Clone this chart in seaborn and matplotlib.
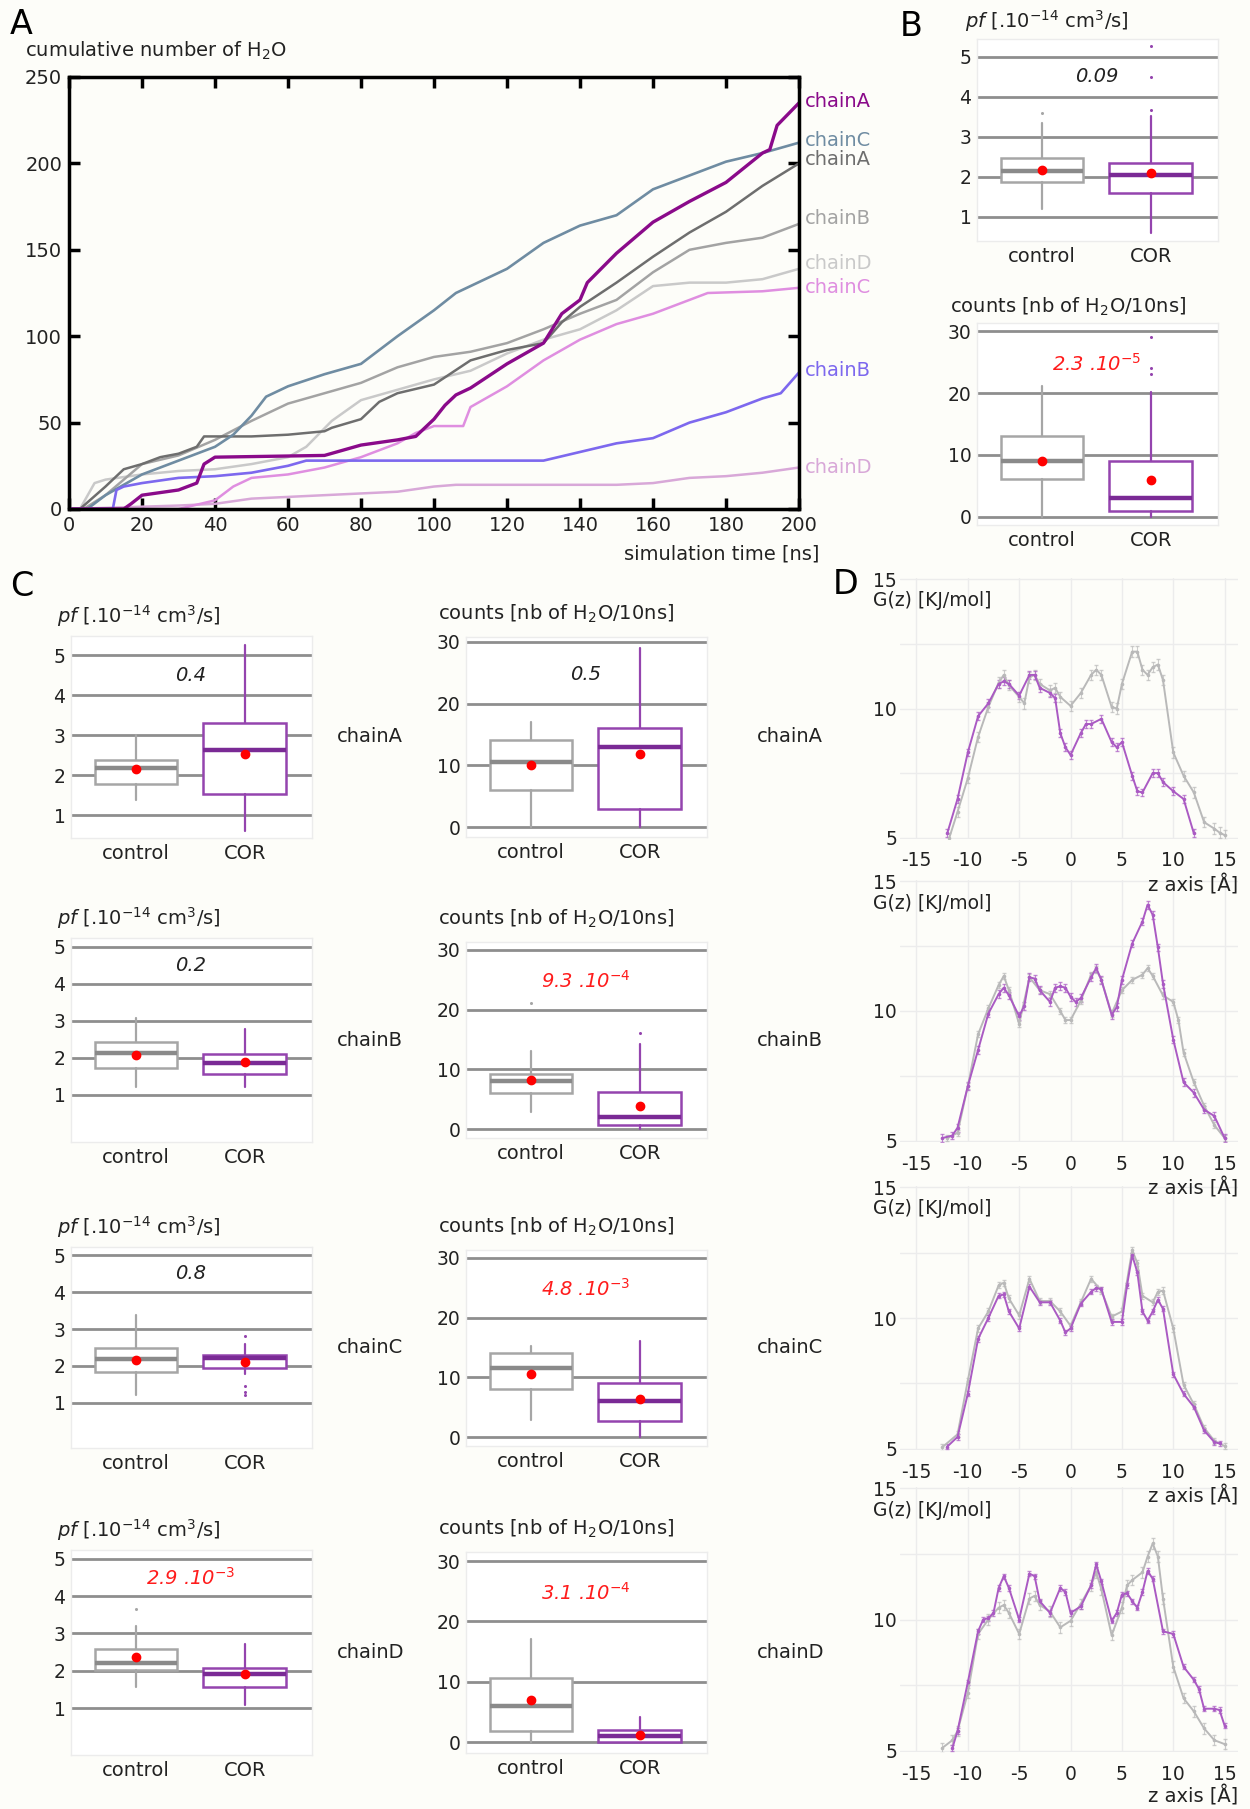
import matplotlib
matplotlib.use("Agg")
import matplotlib.pyplot as plt
import seaborn as sns

W, H = 1250, 1809
sns.set_theme(style="white")
plt.rcParams["font.family"] = ["DejaVu Sans"]
plt.rcParams["axes.unicode_minus"] = False
plt.rcParams["mathtext.fontset"] = "dejavusans"
BG = "#fdfdf9"

# ---------------- Panel A : cumulative number of H2O ----------------
ctrlC_t = [0, 5, 10, 20, 30, 40, 45, 50, 54, 60, 70, 80, 90, 100, 106, 110, 120, 130, 140, 150, 160, 170, 180, 190, 200]
ctrlC_n = [0, 0, 8, 20, 28, 36, 43, 54, 65, 71, 78, 84, 100, 115, 125, 129, 139, 154, 164, 170, 185, 193, 201, 206, 212]
ctrlA_t = [0, 3, 10, 15, 20, 25, 30, 35, 37, 50, 60, 70, 72, 80, 85, 90, 100, 110, 120, 130, 135, 140, 150, 160, 170, 180, 190, 200]
ctrlA_n = [0, 0, 13, 23, 26, 30, 32, 36, 42, 42, 43, 45, 47, 52, 62, 67, 72, 86, 92, 96, 108, 117, 131, 146, 160, 172, 187, 200]
ctrlB_t = [0, 4, 10, 20, 30, 40, 50, 60, 70, 80, 90, 100, 110, 120, 130, 140, 150, 160, 170, 180, 190, 200]
ctrlB_n = [0, 0, 8, 26, 31, 40, 51, 61, 67, 73, 82, 88, 91, 96, 104, 113, 121, 137, 150, 154, 157, 165]
ctrlD_t = [0, 3, 7, 10, 20, 30, 40, 50, 60, 65, 72, 80, 90, 100, 110, 120, 130, 140, 150, 160, 170, 180, 190, 200]
ctrlD_n = [0, 0, 15, 17, 20, 22, 23, 26, 30, 36, 51, 63, 69, 75, 80, 90, 98, 104, 115, 129, 131, 131, 133, 139]
corA_t = [0, 15, 17, 20, 30, 35, 37, 40, 70, 75, 80, 90, 95, 100, 103, 106, 110, 120, 130, 135, 140, 142, 150, 160, 170, 180, 190, 192, 194, 200]
corA_n = [0, 0, 3, 8, 11, 15, 26, 30, 31, 34, 37, 40, 42, 52, 60, 66, 70, 84, 96, 113, 121, 131, 148, 166, 178, 189, 206, 208, 222, 235]
corC_t = [0, 30, 40, 45, 50, 60, 70, 80, 90, 95, 100, 108, 110, 120, 130, 140, 150, 160, 170, 175, 190, 200]
corC_n = [0, 0, 5, 13, 18, 20, 24, 30, 38, 44, 48, 48, 59, 71, 86, 98, 107, 113, 121, 125, 126, 128]
corB_t = [0, 12, 13, 15, 20, 30, 40, 50, 60, 65, 130, 140, 150, 160, 170, 180, 190, 195, 200]
corB_n = [0, 0, 11, 13, 15, 18, 19, 21, 25, 28, 28, 33, 38, 41, 50, 56, 64, 67, 79]
corD_t = [0, 30, 40, 50, 60, 70, 80, 90, 100, 106, 150, 160, 170, 180, 190, 200]
corD_n = [0, 2, 3, 6, 7, 8, 9, 10, 13, 14, 14, 15, 18, 19, 21, 24]
A_labels = ["chainA", "chainC", "chainA", "chainB", "chainD", "chainC", "chainB", "chainD"]
A_label_y = [236, 213, 202, 168, 142, 128, 80, 24]

# ---------------- Panels B / C : box plots ----------------
# order: all chains (B), chainA, chainB, chainC, chainD
groups = ["control", "COR"]
chains = ["chainA", "chainB", "chainC", "chainD"]
pf_ctrl_q1 = [1.87, 1.79, 1.72, 1.85, 2.03]
pf_ctrl_med = [2.16, 2.17, 2.13, 2.20, 2.21]
pf_ctrl_q3 = [2.48, 2.39, 2.42, 2.48, 2.58]
pf_ctrl_lo = [1.20, 1.39, 1.21, 1.21, 1.57]
pf_ctrl_hi = [3.34, 3.00, 3.09, 3.38, 3.20]
pf_ctrl_mean = [2.18, 2.15, 2.09, 2.17, 2.37]
pf_ctrl_fliers = [[3.61], [], [], [], [3.67]]
pf_cor_q1 = [1.60, 1.53, 1.56, 1.94, 1.57]
pf_cor_med = [2.05, 2.64, 1.86, 2.21, 1.91]
pf_cor_q3 = [2.36, 3.31, 2.12, 2.30, 2.08]
pf_cor_lo = [0.60, 0.61, 1.22, 1.78, 1.07]
pf_cor_hi = [3.52, 5.25, 2.77, 2.60, 2.71]
pf_cor_mean = [2.09, 2.53, 1.90, 2.12, 1.90]
pf_cor_fliers = [[3.68, 4.51, 5.27], [], [], [2.82, 1.45, 1.30, 1.21], []]
pf_ptext = ["0.09", "0.4", "0.2", "0.8", r"2.9 .10$^{\mathit{-3}}$"]
pf_psig = [False, False, False, False, True]

cnt_ctrl_q1 = [6.2, 6.0, 6.0, 8.0, 1.8]
cnt_ctrl_med = [9.1, 10.5, 8.0, 11.5, 6.0]
cnt_ctrl_q3 = [13.0, 14.1, 9.2, 14.1, 10.6]
cnt_ctrl_lo = [0.0, 0.0, 2.8, 2.9, 0.0]
cnt_ctrl_hi = [21.1, 17.0, 13.0, 15.2, 17.1]
cnt_ctrl_mean = [9.1, 10.1, 8.25, 10.6, 7.0]
cnt_ctrl_fliers = [[], [], [21.1], [], []]
cnt_cor_q1 = [1.0, 3.0, 0.7, 2.7, 0.0]
cnt_cor_med = [3.1, 13.0, 1.95, 6.1, 0.95]
cnt_cor_q3 = [9.0, 16.0, 6.2, 9.05, 2.0]
cnt_cor_lo = [0.0, 0.0, 0.0, 0.0, 0.0]
cnt_cor_hi = [20.1, 29.0, 14.2, 16.0, 4.1]
cnt_cor_mean = [5.9, 11.8, 3.9, 6.4, 1.2]
cnt_cor_fliers = [[23.0, 24.0, 29.0], [], [16.1], [], []]
cnt_ptext = [r"2.3 .10$^{\mathit{-5}}$", "0.5", r"9.3 .10$^{\mathit{-4}}$", r"4.8 .10$^{\mathit{-3}}$", r"3.1 .10$^{\mathit{-4}}$"]
cnt_psig = [True, False, True, True, True]

# ---------------- Panel D : free energy profiles ----------------
D1_ctrl_z = [-11.8, -11, -10, -9, -8, -7, -6.5, -6, -5, -4.5, -4, -3.5, -3, -2, -1.5, -1, 0, 1, 2, 2.5, 3, 4, 4.5, 5, 6, 6.5, 7, 7.5, 8, 8.5, 9, 10, 11, 12, 13, 14, 14.5, 15]
D1_ctrl_g = [5.0, 6.0, 7.3, 8.9, 10.06, 11.0, 11.3, 10.9, 10.45, 10.2, 11.2, 11.3, 10.95, 10.7, 10.8, 10.45, 10.1, 10.6, 11.3, 11.5, 11.3, 10.06, 10.0, 10.95, 12.2, 12.2, 11.5, 11.3, 11.6, 11.7, 11.1, 8.3, 7.4, 6.75, 5.6, 5.35, 5.2, 5.1]
D1_cor_z = [-12, -11, -10, -9, -8, -7, -6.5, -6, -5, -4, -3.5, -3, -2, -1.5, -1, -0.5, 0, 1, 1.5, 2, 3, 4, 4.5, 5, 6, 6.5, 7, 8, 8.5, 9, 10, 11, 12]
D1_cor_g = [5.17, 6.5, 8.3, 9.7, 10.2, 10.95, 11.05, 10.95, 10.5, 11.3, 11.3, 10.8, 10.6, 10.4, 9.05, 8.5, 8.2, 9.05, 9.4, 9.4, 9.6, 8.7, 8.5, 8.7, 7.4, 6.8, 6.75, 7.5, 7.5, 7.15, 6.8, 6.5, 5.17]
D2_ctrl_z = [-12, -11, -10, -9, -8, -7, -6.5, -6, -5, -4, -3, -2, -1, -0.5, 0, 1, 2, 2.5, 3, 4, 5, 6, 7, 7.5, 8, 9, 10, 10.5, 11, 12, 13, 14, 15]
D2_ctrl_g = [5.1, 5.3, 7.1, 9.1, 10.1, 11.0, 11.35, 10.8, 9.5, 11.3, 10.8, 10.65, 10.0, 9.65, 9.65, 10.4, 11.4, 11.6, 11.2, 9.9, 10.8, 11.2, 11.4, 11.65, 11.35, 10.6, 10.35, 9.65, 8.4, 7.25, 6.35, 5.6, 5.1]
D2_cor_z = [-12.5, -11.5, -11, -10, -9, -8, -7, -6.5, -6, -5, -4.5, -4, -3.5, -3, -2, -1.5, -1, -0.5, 0, 0.5, 1, 2, 2.5, 3, 4, 4.5, 5, 6, 7, 7.5, 8, 8.5, 9, 10, 11, 12, 13, 14, 15]
D2_cor_g = [5.1, 5.2, 5.5, 7.1, 8.5, 9.9, 10.65, 10.9, 10.6, 9.8, 10.2, 11.3, 11.25, 10.8, 10.35, 10.9, 10.95, 10.9, 10.55, 10.35, 10.5, 11.3, 11.65, 11.2, 9.85, 10.15, 11.2, 12.6, 13.45, 14.1, 13.7, 12.45, 11.05, 8.9, 7.25, 6.85, 6.2, 5.95, 5.1]
D3_ctrl_z = [-12.5, -11, -10, -9, -8, -7, -6.5, -6, -5, -4, -3, -2, -1, 0, 1, 2, 3, 4, 5, 6, 6.5, 7, 8, 8.5, 9, 10, 11, 12, 13, 14, 15]
D3_ctrl_g = [5.05, 5.55, 7.6, 9.6, 10.25, 11.25, 11.35, 10.75, 10.1, 11.5, 10.65, 10.65, 10.25, 9.7, 10.6, 11.5, 11.05, 10.05, 10.25, 12.6, 12.1, 10.85, 10.6, 11.0, 11.05, 9.6, 7.45, 6.7, 5.8, 5.3, 5.1]
D3_cor_z = [-12, -11, -10, -9, -8, -7, -6.5, -6, -5, -4, -3, -2, -1, -0.5, 0, 1, 2, 2.5, 3, 4, 5, 5.5, 6, 6.5, 7, 7.5, 8, 8.5, 9, 10, 11, 12, 13, 14, 14.5]
D3_cor_g = [5.08, 5.45, 7.1, 9.2, 10.0, 10.85, 10.9, 10.25, 9.6, 11.2, 10.6, 10.6, 9.9, 9.45, 9.6, 10.55, 11.0, 11.15, 11.1, 9.85, 9.85, 11.25, 12.4, 11.75, 10.25, 9.9, 10.25, 10.7, 10.35, 7.85, 7.1, 6.6, 5.7, 5.25, 5.2]
D4_ctrl_z = [-12.5, -11.5, -11, -10, -9, -8, -7, -6.5, -6, -5, -4, -3.5, -3, -2, -1, 0, 1, 2, 2.5, 3, 4, 5, 5.5, 6, 7, 7.5, 8, 8.5, 9, 10, 11, 12, 13, 14, 15]
D4_ctrl_g = [5.1, 5.4, 5.75, 7.2, 9.45, 10.0, 10.45, 10.55, 10.25, 9.45, 10.8, 10.9, 10.55, 10.3, 9.7, 9.95, 10.6, 11.3, 11.8, 11.15, 9.4, 10.45, 11.3, 11.5, 11.8, 12.4, 12.9, 12.4, 10.8, 8.2, 7.0, 6.5, 5.85, 5.4, 5.25]
D4_cor_z = [-11.5, -11, -10, -9, -8.5, -8, -7.5, -7, -6.5, -6, -5, -4, -3.5, -3, -2, -1, -0.5, 0, 1, 2, 2.5, 3, 4, 4.5, 5, 5.5, 6, 6.5, 7, 7.5, 8, 9, 10, 11, 12, 12.5, 13, 14, 14.5, 15]
D4_cor_g = [5.1, 5.75, 7.6, 9.55, 10.0, 10.05, 10.25, 11.2, 11.65, 11.2, 10.0, 11.75, 11.65, 10.7, 10.25, 11.2, 11.05, 10.25, 10.5, 11.3, 12.1, 11.45, 9.95, 10.25, 10.95, 11.0, 10.7, 10.45, 11.05, 11.85, 11.55, 9.55, 9.45, 8.2, 7.7, 7.35, 6.6, 6.6, 6.55, 5.95]
D_err_ctrl = [0.2, 0.12, 0.12, 0.2]
D_err_cor = [0.15, 0.15, 0.1, 0.1]

# ---------------- figure ----------------
fig = plt.figure(figsize=(W / 100, H / 100), dpi=100, facecolor=BG)


def rect(x0, y0, x1, y1):
    return [x0 / W, 1 - y1 / H, (x1 - x0) / W, (y1 - y0) / H]


def ftext(x, y, s, **kw):
    fig.text(x / W, 1 - y / H, s, **kw)


TXT = "#222222"
RED = "#ff1c1c"

# ---- Panel A
axA = fig.add_axes(rect(69, 77, 799, 509))
axA.set_facecolor(BG)
A_series = [
    (ctrlD_t, ctrlD_n, "#c9c9c9", 1.8),
    (ctrlB_t, ctrlB_n, "#a3a3a3", 1.8),
    (ctrlA_t, ctrlA_n, "#6e6e6e", 1.8),
    (ctrlC_t, ctrlC_n, "#6f8ca2", 1.9),
    (corD_t, corD_n, "#d8a8d8", 1.8),
    (corC_t, corC_n, "#df8ee0", 1.8),
    (corB_t, corB_n, "#7d68ee", 1.9),
    (corA_t, corA_n, "#8a0a8a", 2.4),
]
for t, n, c, lw in A_series:
    sns.lineplot(x=t, y=n, ax=axA, color=c, lw=lw, estimator=None, sort=False)
A_label_colors = ["#8a0a8a", "#6f8ca2", "#6e6e6e", "#a3a3a3", "#c9c9c9", "#df8ee0", "#7d68ee", "#d8a8d8"]
for lab, ly, c in zip(A_labels, A_label_y, A_label_colors):
    axA.annotate(lab, xy=(1, ly), xycoords=("axes fraction", "data"), xytext=(4, 0),
                 textcoords="offset points", va="center", ha="left", color=c, fontsize=14)
axA.set_xlim(0, 200)
axA.set_ylim(0, 250)
axA.set_xticks(range(0, 201, 20))
axA.set_yticks(range(0, 251, 50))
axA.set_xlabel("")
axA.set_ylabel("")
axA.tick_params(direction="in", length=8, width=2.5, top=True, right=True, bottom=True, left=True,
                labelsize=14, labelcolor=TXT, color="black", pad=5)
for s in axA.spines.values():
    s.set_color("black")
    s.set_linewidth(2.5)
ftext(25, 51, "cumulative number of H$_2$O", fontsize=14, va="center", ha="left", color=TXT)
ftext(819, 554, "simulation time [ns]", fontsize=14, va="center", ha="right", color=TXT)

# ---- box plot helper
CTRL_E, CTRL_M = "#a6a6a6", "#8a8a8a"
COR_E, COR_M = "#9444ae", "#7a2a95"


def stat(q1, med, q3, lo, hi, mean, fl):
    return dict(q1=q1, med=med, q3=q3, whislo=lo, whishi=hi, mean=mean, fliers=fl)


def boxpanel(rc, ctrl, cor, ylim, yticks, ptxt, psig, py):
    ax = fig.add_axes(rect(*rc))
    ax.set_facecolor("white")
    for pos, st, ec, mc in [(0, ctrl, CTRL_E, CTRL_M), (1, cor, COR_E, COR_M)]:
        ax.bxp([st], positions=[pos], widths=0.76, patch_artist=True, showcaps=False,
               showmeans=True, manage_ticks=False,
               boxprops=dict(facecolor="white", edgecolor=ec, linewidth=1.8),
               medianprops=dict(color=mc, linewidth=3.2),
               whiskerprops=dict(color=ec, linewidth=1.6),
               flierprops=dict(marker="o", markersize=2.2, markerfacecolor=ec, markeredgecolor="none"),
               meanprops=dict(marker="o", markersize=6, markerfacecolor="red", markeredgecolor="red"),
               zorder=3)
    ax.set_xlim(-0.6, 1.62)
    ax.set_ylim(*ylim)
    ax.set_yticks(yticks)
    ax.set_xticks([0, 1])
    ax.set_xticklabels(groups)
    ax.yaxis.grid(True, color="#8e8e8e", linewidth=2)
    ax.xaxis.grid(False)
    ax.set_axisbelow(True)
    ax.tick_params(length=0, labelsize=13.5, labelcolor=TXT, pad=4)
    ax.tick_params(axis="x", labelsize=14)
    for s in ax.spines.values():
        s.set_color("#ececec")
        s.set_linewidth(1)
    ax.text(0.5, py, ptxt, ha="center", va="center", fontsize=14, style="italic",
            color=RED if psig else TXT, zorder=5)
    return ax


pf_title = r"$\mathit{pf}$ [.10$^{-14}$ cm$^{3}$/s]"
cnt_title = r"counts [nb of H$_2$O/10ns]"


def pf_stats(i):
    c = stat(pf_ctrl_q1[i], pf_ctrl_med[i], pf_ctrl_q3[i], pf_ctrl_lo[i], pf_ctrl_hi[i], pf_ctrl_mean[i], pf_ctrl_fliers[i])
    r = stat(pf_cor_q1[i], pf_cor_med[i], pf_cor_q3[i], pf_cor_lo[i], pf_cor_hi[i], pf_cor_mean[i], pf_cor_fliers[i])
    return c, r


def cnt_stats(i):
    c = stat(cnt_ctrl_q1[i], cnt_ctrl_med[i], cnt_ctrl_q3[i], cnt_ctrl_lo[i], cnt_ctrl_hi[i], cnt_ctrl_mean[i], cnt_ctrl_fliers[i])
    r = stat(cnt_cor_q1[i], cnt_cor_med[i], cnt_cor_q3[i], cnt_cor_lo[i], cnt_cor_hi[i], cnt_cor_mean[i], cnt_cor_fliers[i])
    return c, r


# ---- Panel B
c, r = pf_stats(0)
boxpanel((977, 39, 1218, 241), c, r, (0.4, 5.45), [1, 2, 3, 4, 5], pf_ptext[0], pf_psig[0], 4.5)
ftext(965, 21, pf_title, fontsize=14, va="center", ha="left", color=TXT)
c, r = cnt_stats(0)
boxpanel((977, 323, 1218, 525), c, r, (-1.3, 31.3), [0, 10, 20, 30], cnt_ptext[0], cnt_psig[0], 24.7)
ftext(950, 307, cnt_title, fontsize=14, va="center", ha="left", color=TXT)

# ---- Panel C
pf_rows = [(636, 838, (0.43, 5.48)), (938, 1142, (-0.27, 5.24)), (1247, 1448, (-0.22, 5.22)), (1550, 1755, (-0.26, 5.24))]
cnt_rows = [(637, 837, (-1.6, 30.8)), (942, 1138, (-1.5, 31.3)), (1250, 1446, (-1.5, 31.3)), (1552, 1753, (-1.8, 31.5))]
for k in range(4):
    y0, y1, yl = pf_rows[k]
    c, r = pf_stats(k + 1)
    boxpanel((71, y0, 312, y1), c, r, yl, [1, 2, 3, 4, 5], pf_ptext[k + 1], pf_psig[k + 1], 4.5)
    ftext(57, y0 - 20, pf_title, fontsize=14, va="center", ha="left", color=TXT)
    ftext(337, (y0 + y1) / 2, chains[k], fontsize=14, va="center", ha="left", color=TXT)
    y0c, y1c, ylc = cnt_rows[k]
    c, r = cnt_stats(k + 1)
    boxpanel((466, y0c, 707, y1c), c, r, ylc, [0, 10, 20, 30], cnt_ptext[k + 1], cnt_psig[k + 1], 24.8)
    ftext(438, y0c - 23, cnt_title, fontsize=14, va="center", ha="left", color=TXT)
    ftext(757, (y0 + y1) / 2, chains[k], fontsize=14, va="center", ha="left", color=TXT)

# ---- Panel D
D_rows = [(578, 839), (880, 1142), (1186, 1450), (1487, 1752)]
D_zlab_off = [46, 46, 46, 44]
D_data = [(D1_ctrl_z, D1_ctrl_g, D1_cor_z, D1_cor_g),
          (D2_ctrl_z, D2_ctrl_g, D2_cor_z, D2_cor_g),
          (D3_ctrl_z, D3_ctrl_g, D3_cor_z, D3_cor_g),
          (D4_ctrl_z, D4_ctrl_g, D4_cor_z, D4_cor_g)]
D_GRAY, D_PURP = "#b9b9b9", "#aa5ac3"
for k, ((y0, y1), (zc, gc, zr, gr)) in enumerate(zip(D_rows, D_data)):
    ax = fig.add_axes(rect(900, y0, 1238, y1))
    ax.set_facecolor("white")
    ax.patch.set_alpha(0)
    for z, g, col, err in [(zc, gc, D_GRAY, D_err_ctrl[k]), (zr, gr, D_PURP, D_err_cor[k])]:
        ax.errorbar(z, g, yerr=err, fmt="none", ecolor=col, elinewidth=0.8, capsize=1.5, alpha=0.7, zorder=2)
        sns.lineplot(x=z, y=g, ax=ax, color=col, lw=1.4, marker="o", markersize=2.6,
                     markeredgewidth=0, estimator=None, sort=False, zorder=3)
    ax.set_xlim(-16.6, 16.3)
    ax.set_ylim(4.95, 15.05)
    ax.set_xticks([-15, -10, -5, 0, 5, 10, 15])
    ax.set_yticks([5, 10, 15])
    ax.set_yticks([7.5, 12.5], minor=True)
    ax.grid(True, which="both", color="#ececec", linewidth=1)
    ax.set_xlabel("")
    ax.set_ylabel("")
    ax.tick_params(length=0, labelsize=13.5, labelcolor=TXT)
    ax.tick_params(axis="x", pad=9)
    ax.tick_params(axis="y", pad=2)
    for s in ax.spines.values():
        s.set_visible(False)
    ftext(873, y0 + 23, "G(z) [KJ/mol]", fontsize=13.5, va="center", ha="left", color=TXT)
    ftext(1238, y1 + D_zlab_off[k], "z axis [Å]", fontsize=14, va="center", ha="right", color=TXT)

# ---- panel letters
ftext(10, 24, "A", fontsize=24, va="center", ha="left", color="black")
ftext(900, 26, "B", fontsize=24, va="center", ha="left", color="black")
ftext(10, 586, "C", fontsize=24, va="center", ha="left", color="black")
ftext(833, 584, "D", fontsize=24, va="center", ha="left", color="black")

fig.savefig("out.png", dpi=100, facecolor=BG)
